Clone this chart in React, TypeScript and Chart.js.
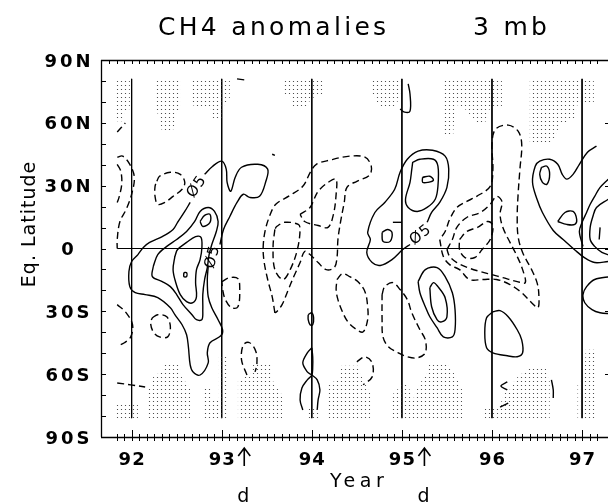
import React, { useEffect, useRef } from 'react';
import { Chart, registerables } from 'chart.js';

Chart.register(...registerables);

type Pt = [number, number];

// ---------- axes / text ----------
const yearTicks = [92, 93, 94, 95, 96, 97];
const latTicks = [90, 60, 30, 0, -30, -60, -90];
const latLabels = ['90N', '60N', '30N', '0', '30S', '60S', '90S'];
const titleLeft = 'CH4 anomalies';
const titleRight = '3 mb';
const xTitle = 'Year';
const yTitle = 'Eq. Latitude';
const eventYears = [93.25, 95.25];
const eventLabels = ['d', 'd'];
const contourLabelText = 'Ø5';
const contourLabelPos: Pt[] = [[92.725, 29.5], [92.9, -4.0], [95.21, 6.5]];
const yearLineLat = 81;
const equatorFrom = 91.84;
const monthFirstTop = -3;
const monthFirstBottom = -2;
const monthLast = 62;

// ---------- stippled (significant) areas ----------
const stipA: Pt[] = [[91.83,80],[91.98,80],[91.98,66.6],[91.93,65.6],[91.91,60.8],[91.83,60.8]];
const stipB: Pt[] = [[92.27,80],[92.54,80],[92.54,66.6],[92.49,64.2],[92.48,59.4],[92.45,55.1],[92.34,55.1],[92.31,61.8],[92.27,66.6]];
const stipC: Pt[] = [[92.66,80],[93.09,80],[93.09,71.4],[93.04,69.0],[93.0,61.8],[92.89,61.8],[92.87,66.6],[92.66,68.5]];
const stipD: Pt[] = [[93.69,80],[94.12,80],[94.12,73.8],[93.98,71.4],[93.96,67.5],[93.79,67.5],[93.76,72.3],[93.69,73.3]];
const stipE: Pt[] = [[94.66,80],[94.99,80],[94.99,73.8],[94.94,69.0],[94.9,66.6],[94.76,66.6],[94.71,71.4],[94.66,73.8]];
const stipF: Pt[] = [[95.46,80],[96.11,80],[96.11,67.5],[95.98,67.5],[95.94,60.8],[95.84,59.9],[95.7,66.6],[95.59,69.0],[95.57,54.6],[95.46,54.6]];
const stipG: Pt[] = [[96.42,80],[97.13,80],[97.13,69.9],[96.95,69.0],[96.92,61.8],[96.75,59.4],[96.7,52.2],[96.61,49.8],[96.42,49.8]];
const stipH: Pt[] = [[91.83,-73.3],[92.07,-73.3],[92.07,-81],[91.83,-81]];
const stipI: Pt[] = [[92.17,-81],[92.17,-67.5],[92.23,-65.1],[92.24,-60.8],[92.34,-58.9],[92.35,-54.6],[92.54,-54.6],[92.54,-60.4],[92.65,-66.6],[92.65,-81]];
const stipJ: Pt[] = [[92.79,-81],[92.79,-66.1],[92.89,-66.1],[92.89,-72.3],[92.96,-72.3],[92.96,-51.7],[93.06,-51.7],[93.06,-81]];
const stipK: Pt[] = [[93.18,-81],[93.18,-62.7],[93.31,-60.4],[93.35,-55.6],[93.56,-55.6],[93.56,-62.7],[93.67,-69.9],[93.67,-81]];
const stipL: Pt[] = [[93.95,-75.2],[94.09,-75.2],[94.09,-81],[93.95,-81]];
const stipM: Pt[] = [[94.18,-81],[94.18,-65.1],[94.31,-61.8],[94.33,-56.0],[94.51,-56.0],[94.56,-61.8],[94.65,-68.5],[94.65,-81]];
const stipN: Pt[] = [[94.89,-81],[94.89,-69.9],[95.0,-65.1],[95.07,-65.1],[95.12,-72.3],[95.19,-65.1],[95.26,-60.8],[95.31,-54.6],[95.5,-54.6],[95.59,-60.4],[95.67,-67.5],[95.67,-81]];
const stipO: Pt[] = [[95.92,-81],[95.92,-75.7],[96.09,-75.7],[96.12,-69.9],[96.22,-66.6],[96.25,-62.7],[96.42,-56.5],[96.59,-56.5],[96.64,-62.7],[96.64,-81]];
const stipP: Pt[] = [[96.95,-81],[96.95,-65.1],[97.03,-58.0],[97.04,-48.4],[97.15,-48.4],[97.15,-81]];

// ---------- positive anomaly contours (solid) ----------
const posA1: Pt[] = [[92.85,-8.6],[92.84,-14.8],[92.85,-23.0],[92.89,-28.3],[92.96,-34.0],[93.01,-38.8],[92.99,-41.7],[92.87,-45.0],[92.84,-49.8],[92.85,-54.6],[92.76,-60.4],[92.68,-58.9],[92.65,-55.6],[92.63,-46.9],[92.61,-41.2],[92.56,-36.4],[92.48,-31.6],[92.43,-28.3],[92.29,-23.5],[92.15,-22.0],[92.04,-21.1],[91.98,-18.2],[91.97,-11.0],[92.0,-6.2],[92.07,-2.9],[92.13,0.5],[92.2,2.9],[92.34,5.7],[92.46,9.1],[92.51,12.5],[92.59,17.7],[92.65,22.0]];
const posA2: Pt[] = [[92.81,35.4],[92.9,39.3],[93.0,41.7],[93.05,37.9],[93.06,31.6],[93.1,27.3],[93.15,34.0],[93.22,38.8],[93.4,40.2],[93.51,37.9],[93.49,32.1],[93.42,24.9],[93.31,24.4],[93.24,25.9],[93.17,22.0],[93.09,15.3],[93.02,9.1],[92.98,1.9]];
const posA3: Pt[] = [[92.24,-8.6],[92.23,-13.4],[92.34,-15.8],[92.43,-18.2],[92.5,-22.0],[92.57,-26.8],[92.67,-31.6],[92.72,-34.0],[92.78,-34.0],[92.79,-29.2],[92.79,-22.0],[92.81,-14.8],[92.84,-9.1],[92.86,-2.9],[92.89,1.9],[92.94,8.1],[92.96,12.9],[92.92,17.7],[92.85,19.6],[92.76,17.7],[92.7,12.9],[92.61,8.1],[92.5,4.3],[92.39,1.0],[92.29,-2.9],[92.24,-8.6]];
const posA4: Pt[] = [[92.48,-3.8],[92.46,-10.1],[92.49,-16.3],[92.54,-22.0],[92.61,-25.4],[92.68,-25.9],[92.72,-23.0],[92.71,-16.3],[92.72,-10.1],[92.76,-5.3],[92.78,0.5],[92.77,5.3],[92.71,5.7],[92.61,2.9],[92.51,-0.5],[92.48,-3.8]];
const posA5: Pt[] = [[92.76,12.9],[92.81,15.8],[92.87,16.3],[92.87,12.5],[92.79,10.5],[92.76,12.9]];
const posA6: Pt[] = [[92.58,-11.5],[92.61,-11.5],[92.61,-13.4],[92.58,-13.4],[92.58,-11.5]];
const posB1: Pt[] = [[95.09,1.9],[95.01,-0.5],[94.89,-5.3],[94.76,-8.1],[94.67,-6.7],[94.61,-1.9],[94.65,4.3],[94.62,7.7],[94.7,17.2],[94.81,22.0],[94.92,28.3],[94.98,36.4],[95.06,42.6],[95.18,46.5],[95.34,46.9],[95.48,44.1],[95.52,37.9],[95.5,29.2],[95.42,22.0],[95.33,17.2],[95.28,12.5]];
const posB2: Pt[] = [[95.12,41.2],[95.2,42.6],[95.35,42.6],[95.4,39.3],[95.4,29.7],[95.37,23.5],[95.28,19.6],[95.17,17.7],[95.07,19.6],[95.04,23.5],[95.09,31.6],[95.11,37.9],[95.12,41.2]];
const posB3: Pt[] = [[95.23,34.0],[95.31,34.5],[95.35,32.6],[95.29,31.6],[95.23,31.6],[95.23,34.0]];
const posB4: Pt[] = [[94.78,7.7],[94.84,9.1],[94.89,7.7],[94.87,3.4],[94.79,3.4],[94.78,7.7]];
const posB5: Pt[] = [[94.9,12.5],[95.0,12.5]];
const posB6: Pt[] = [[95.07,78.6],[95.09,73.8],[95.09,65.6],[95.03,65.1],[94.98,66.6]];
const posC1: Pt[] = [[95.18,-15.8],[95.26,-10.1],[95.39,-9.1],[95.48,-13.4],[95.56,-21.1],[95.59,-29.2],[95.59,-38.8],[95.56,-42.2],[95.46,-42.2],[95.39,-37.8],[95.31,-32.6],[95.26,-27.8],[95.2,-21.1],[95.18,-15.8]];
const posC2: Pt[] = [[95.31,-18.7],[95.35,-16.3],[95.4,-18.2],[95.48,-23.5],[95.5,-32.6],[95.44,-35.0],[95.39,-34.0],[95.33,-27.8],[95.31,-18.7]];
const posC3: Pt[] = [[96.01,-30.2],[96.09,-29.7],[96.18,-32.6],[96.28,-38.8],[96.33,-43.6],[96.34,-49.8],[96.28,-51.7],[96.17,-51.2],[96.01,-49.8],[95.94,-47.4],[95.92,-40.2],[95.94,-33.1],[96.01,-30.2]];
const posD1: Pt[] = [[97.16,48.9],[97.06,46.0],[96.97,40.2],[96.9,35.4],[96.83,33.1],[96.78,35.4],[96.73,40.2],[96.64,42.6],[96.53,41.7],[96.48,39.3],[96.45,31.6],[96.5,23.5],[96.56,17.2],[96.68,8.6],[96.79,4.3],[96.92,-0.7],[97.03,-4.5],[97.14,-6.7],[97.29,-6.2]];
const posD2: Pt[] = [[96.55,38.8],[96.61,39.3],[96.64,35.4],[96.61,30.7],[96.56,31.6],[96.53,35.4],[96.55,38.8]];
const posD3: Pt[] = [[96.73,12.9],[96.81,17.2],[96.9,17.7],[96.94,13.9],[96.92,11.5],[96.83,11.5],[96.73,12.9]];
const posD4: Pt[] = [[97.01,1.0],[96.97,8.1],[97.0,12.5],[97.05,17.2],[97.09,21.1],[97.14,24.9],[97.2,29.2],[97.29,33.1]];
const posD5: Pt[] = [[97.29,23.5],[97.16,19.6],[97.12,15.3],[97.09,10.1],[97.09,4.3],[97.14,1.0],[97.22,-1.9],[97.32,-3.4]];
const posD6: Pt[] = [[97.2,10.1],[97.19,4.3]];
const posD7: Pt[] = [[97.32,-13.4],[97.14,-14.8],[97.05,-18.2],[97.01,-22.0],[97.03,-25.9],[97.11,-29.2],[97.2,-30.7],[97.32,-31.1]];
const posE1: Pt[] = [[93.96,-31.6],[94.0,-30.7],[94.02,-33.1],[94.01,-36.4],[93.98,-36.4],[93.96,-34.0],[93.96,-31.6]];
const posE2: Pt[] = [[94.0,-47.4],[93.95,-49.8],[93.9,-54.6],[93.95,-58.9],[94.0,-60.4],[94.06,-62.7],[94.09,-67.5],[94.07,-72.3],[94.06,-77.1]];
const posE3: Pt[] = [[94.0,-47.4],[94.01,-51.7],[94.01,-56.5],[94.0,-60.4],[93.95,-62.7],[93.89,-66.6],[93.87,-72.3],[93.9,-77.1]];
const posF1: Pt[] = [[96.17,-63.7],[96.1,-65.6],[96.17,-67.5]];
const posF2: Pt[] = [[96.09,-75.7],[96.18,-73.8]];
const posF3: Pt[] = [[96.66,-62.7],[96.68,-67.5],[96.68,-71.4]];
const posG1: Pt[] = [[93.17,81.0],[93.25,80.5]];
const posG2: Pt[] = [[93.56,45.0],[93.59,44.5]];

// ---------- negative anomaly contours (dashed) ----------
const negA1: Pt[] = [[91.84,43.6],[91.9,44.1],[91.98,40.2],[92.03,34.0],[92.0,25.9],[91.94,18.7],[91.87,12.9],[91.84,4.3],[91.84,0]];
const negA2: Pt[] = [[91.84,40.2],[91.88,36.9],[91.89,30.7],[91.86,24.4],[91.84,22.0]];
const negA3: Pt[] = [[91.84,55.6],[91.93,59.9]];
const negA4: Pt[] = [[91.84,-26.8],[91.94,-30.7],[92.01,-36.4],[91.99,-42.2],[91.92,-45.0],[91.84,-46.5]];
const negA5: Pt[] = [[91.84,-64.2],[91.99,-65.1],[92.15,-66.1]];
const negB1: Pt[] = [[92.28,32.1],[92.31,34.5],[92.43,36.4],[92.54,35.4],[92.59,31.6],[92.56,28.3],[92.46,24.9],[92.37,22.0],[92.29,21.1],[92.26,24.9],[92.26,29.7],[92.28,32.1]];
const negB2: Pt[] = [[92.23,-33.1],[92.29,-31.6],[92.39,-32.6],[92.43,-37.4],[92.4,-42.2],[92.31,-42.2],[92.24,-39.8],[92.21,-35.4],[92.23,-33.1]];
const negB3: Pt[] = [[93.0,-15.8],[93.09,-13.9],[93.18,-14.4],[93.2,-19.6],[93.18,-27.8],[93.11,-28.3],[93.04,-24.4],[93.01,-19.6],[93.0,-15.8]];
const negB4: Pt[] = [[93.28,-60.4],[93.22,-53.2],[93.24,-46.0],[93.31,-45.0],[93.38,-49.3],[93.39,-55.6],[93.37,-58.9]];
const negC1: Pt[] = [[93.59,-30.7],[93.56,-23.0],[93.51,-14.8],[93.47,-6.2],[93.46,0.5],[93.48,8.1],[93.53,15.3],[93.6,21.1],[93.76,25.4],[93.9,29.7],[93.99,36.9],[94.05,40.2],[94.2,42.2],[94.42,44.1],[94.59,43.6],[94.66,39.3],[94.64,35.0],[94.5,32.1],[94.39,29.2],[94.36,22.0],[94.32,12.9],[94.29,4.3],[94.28,-4.3],[94.25,-9.1],[94.16,-10.1],[94.07,-6.7],[93.98,-2.9],[93.92,-1.4],[93.87,-6.7],[93.8,-13.4],[93.73,-20.6],[93.67,-26.8],[93.61,-30.2],[93.59,-30.7]];
const negC2: Pt[] = [[93.59,9.1],[93.57,1.0],[93.59,-10.1],[93.68,-14.8],[93.76,-10.1],[93.84,-0.5],[93.87,9.1],[93.85,11.5],[93.7,12.5],[93.61,10.5],[93.59,9.1]];
const negC3: Pt[] = [[93.87,16.3],[93.98,19.6],[94.07,27.3],[94.2,32.1],[94.27,33.1],[94.27,25.9],[94.24,16.3],[94.18,10.1],[94.07,11.0],[93.92,12.9],[93.87,16.3]];
const negC4: Pt[] = [[94.28,-14.8],[94.34,-12.0],[94.42,-13.4],[94.51,-15.8],[94.59,-20.6],[94.62,-27.8],[94.62,-34.0],[94.57,-39.8],[94.5,-38.8],[94.4,-35.0],[94.34,-30.2],[94.29,-24.4],[94.27,-19.6],[94.28,-14.8]];
const negC5: Pt[] = [[94.5,-54.1],[94.59,-51.7],[94.67,-54.6],[94.67,-61.3],[94.57,-65.1]];
const negD1: Pt[] = [[94.78,-22.0],[94.81,-18.2],[94.9,-16.3],[94.98,-19.6],[95.06,-24.4],[95.11,-30.7],[95.2,-38.8],[95.26,-43.6],[95.26,-49.8],[95.17,-52.2],[95.06,-51.7],[94.96,-49.8],[94.85,-46.9],[94.79,-42.2],[94.78,-34.0],[94.78,-22.0]];
const negE1: Pt[] = [[95.42,4.3],[95.46,-3.8],[95.53,-7.7],[95.64,-10.1],[95.75,-14.8],[95.9,-14.8],[96.05,-14.8],[96.2,-17.2],[96.33,-21.1],[96.44,-25.9],[96.51,-28.3],[96.52,-22.0],[96.5,-16.3],[96.44,-10.1],[96.34,-1.9],[96.29,5.7],[96.28,15.3],[96.29,25.9],[96.31,37.9],[96.33,49.8],[96.29,56.0],[96.18,58.9],[96.04,57.0],[96.0,49.8],[96.01,37.9],[95.98,29.7],[95.83,24.9],[95.72,22.5],[95.61,19.6],[95.53,13.9],[95.48,8.1],[95.42,4.3]];
const negE2: Pt[] = [[95.5,-0.5],[95.56,4.3],[95.61,10.1],[95.72,14.8],[95.87,17.2],[95.98,21.1],[96.05,24.9],[96.11,22.5],[96.09,16.3],[96.12,10.1],[96.2,2.9],[96.28,-3.8],[96.34,-10.1],[96.37,-16.3],[96.28,-15.8],[96.12,-13.9],[96.0,-12.5],[95.87,-11.0],[95.73,-9.1],[95.61,-6.7],[95.53,-3.8],[95.5,-0.5]];
const negE3: Pt[] = [[95.64,4.3],[95.72,8.1],[95.84,10.1],[95.95,12.9],[96.01,11.0],[95.98,4.3],[95.89,-0.5],[95.81,-4.3],[95.7,-4.3],[95.64,-0.5],[95.64,4.3]];

const stippleAreas = [stipA, stipB, stipC, stipD, stipE, stipF, stipG, stipH, stipI, stipJ, stipK, stipL, stipM, stipN, stipO, stipP];
const solidContours = [posA1, posA2, posA3, posA4, posA5, posA6, posB1, posB2, posB3, posB4, posB5, posB6, posC1, posC2, posC3, posD1, posD2, posD3, posD4, posD5, posD6, posD7, posE1, posE2, posE3, posF1, posF2, posF3, posG1, posG2];
const dashedContours = [negA1, negA2, negA3, negA4, negA5, negB1, negB2, negB3, negB4, negC1, negC2, negC3, negC4, negC5, negD1, negE1, negE2, negE3];

const toXY = (p: Pt[]) => p.map(([x, y]) => ({ x, y }));

const decorPlugin = {
  id: 'decor',
  afterDatasetsDraw(chart: any) {
    const { ctx, chartArea: a, scales } = chart;
    const xs = scales.x;
    const ys = scales.y;
    ctx.save();
    ctx.strokeStyle = '#000';
    ctx.fillStyle = '#000';
    ctx.lineWidth = 1.3;
    ctx.beginPath();
    ctx.moveTo(a.left, a.top + 0.5); ctx.lineTo(a.right, a.top + 0.5);
    ctx.moveTo(a.left + 0.5, a.top); ctx.lineTo(a.left + 0.5, a.bottom);
    ctx.moveTo(a.left, a.bottom + 0.5); ctx.lineTo(a.right, a.bottom + 0.5);
    ctx.moveTo(a.right - 0.5, a.top); ctx.lineTo(a.right - 0.5, a.bottom);
    ctx.stroke();

    // monthly ticks
    ctx.lineWidth = 1;
    ctx.beginPath();
    for (let m = monthFirstTop; m <= monthLast; m++) {
      const px = Math.round(xs.getPixelForValue(92 + m / 12)) + 0.5;
      ctx.moveTo(px, a.top); ctx.lineTo(px, a.top + 4);
    }
    for (let m = monthFirstBottom; m <= monthLast; m++) {
      const px = Math.round(xs.getPixelForValue(92 + m / 12)) + 0.5;
      const major = m % 12 === 0;
      ctx.moveTo(px, a.bottom - (major ? 7 : 3)); ctx.lineTo(px, a.bottom + 4);
    }
    // latitude ticks
    for (let lat = -80; lat <= 80; lat += 10) {
      const py = Math.round(ys.getPixelForValue(lat)) + 0.5;
      ctx.moveTo(a.left, py); ctx.lineTo(a.left + 5, py);
      if (lat % 30 === 0) { ctx.moveTo(a.right, py); ctx.lineTo(a.right - 5, py); }
    }
    ctx.stroke();

    // tick labels
    ctx.font = 'bold 18px "DejaVu Sans"';
    ctx.textAlign = 'center';
    ctx.textBaseline = 'alphabetic';
    (ctx as any).letterSpacing = '1px';
    yearTicks.forEach((v) => {
      ctx.fillText(String(v), xs.getPixelForValue(v) + 0.5, 465);
    });
    (ctx as any).letterSpacing = '3px';
    latTicks.forEach((v, i) => {
      ctx.fillText(latLabels[i], 69, ys.getPixelForValue(v) + 6.5);
    });

    // event arrows
    ctx.lineWidth = 1.6;
    eventYears.forEach((v) => {
      const px = xs.getPixelForValue(v);
      ctx.beginPath();
      ctx.moveTo(px, 466); ctx.lineTo(px, 448);
      ctx.moveTo(px - 6, 456); ctx.lineTo(px, 448); ctx.lineTo(px + 6, 456);
      ctx.stroke();
    });
    ctx.font = '19px "DejaVu Sans"';
    (ctx as any).letterSpacing = '0px';
    eventYears.forEach((v, i) => {
      ctx.fillText(eventLabels[i], xs.getPixelForValue(v) - 1, 502);
    });

    // axis titles
    (ctx as any).letterSpacing = '4.5px';
    ctx.textAlign = 'left';
    ctx.fillText(xTitle, 330, 487);
    ctx.save();
    ctx.translate(35, 224);
    ctx.rotate(-Math.PI / 2);
    ctx.textAlign = 'center';
    (ctx as any).letterSpacing = '1px';
    ctx.fillText(yTitle, 0, 0);
    ctx.restore();

    // main title
    ctx.font = '25px "DejaVu Sans"';
    (ctx as any).letterSpacing = '3.3px';
    ctx.textAlign = 'left';
    ctx.fillText(titleLeft, 158, 35);
    ctx.fillText(titleRight, 473, 35);

    // contour labels
    const angles = [-55, -75, -38];
    ctx.font = '15px "DejaVu Sans"';
    (ctx as any).letterSpacing = '1px';
    ctx.textAlign = 'center';
    ctx.textBaseline = 'middle';
    contourLabelPos.forEach(([x, y], i) => {
      ctx.save();
      ctx.translate(xs.getPixelForValue(x), ys.getPixelForValue(y));
      ctx.rotate((angles[i] * Math.PI) / 180);
      ctx.fillText(contourLabelText, 0, 0);
      ctx.restore();
    });
    ctx.restore();
  },
};

export default function App() {
  const ref = useRef<HTMLCanvasElement | null>(null);
  useEffect(() => {
    const canvas = ref.current;
    if (!canvas) return;
    const ctx = canvas.getContext('2d')!;
    const tile = document.createElement('canvas');
    tile.width = 4; tile.height = 4;
    const tctx = tile.getContext('2d')!;
    tctx.fillStyle = '#333';
    tctx.beginPath();
    tctx.arc(1.5, 1.5, 0.62, 0, Math.PI * 2);
    tctx.fill();
    const pattern = ctx.createPattern(tile, 'repeat')!;

    const datasets: any[] = [];
    stippleAreas.forEach((p) => {
      datasets.push({
        data: toXY([...p, p[0]]),
        showLine: true,
        fill: 'shape',
        backgroundColor: pattern,
        borderWidth: 0,
        borderColor: 'rgba(0,0,0,0)',
        pointRadius: 0,
        tension: 0,
      });
    });
    yearTicks.forEach((v) => {
      datasets.push({
        data: [{ x: v, y: yearLineLat }, { x: v, y: -yearLineLat }],
        showLine: true, borderColor: '#000', borderWidth: 1, pointRadius: 0, tension: 0, fill: false,
      });
    });
    datasets.push({
      data: [{ x: equatorFrom, y: 0 }, { x: 97.4, y: 0 }],
      showLine: true, borderColor: '#000', borderWidth: 1, pointRadius: 0, tension: 0, fill: false,
    });
    solidContours.forEach((p) => {
      datasets.push({
        data: toXY(p), showLine: true, borderColor: '#000', borderWidth: 1.4,
        pointRadius: 0, tension: 0.35, fill: false,
      });
    });
    dashedContours.forEach((p) => {
      datasets.push({
        data: toXY(p), showLine: true, borderColor: '#000', borderWidth: 1.4,
        borderDash: [7, 4], pointRadius: 0, tension: 0.35, fill: false,
      });
    });

    const chart = new Chart(ctx, {
      type: 'scatter',
      data: { datasets },
      options: {
        animation: false,
        responsive: false,
        events: [],
        layout: { padding: { left: 101, top: 60, right: 6, bottom: 65 } },
        plugins: { legend: { display: false }, tooltip: { enabled: false } },
        scales: {
          x: { type: 'linear', min: 91.66, max: 97.31, display: false },
          y: { type: 'linear', min: -90, max: 90, display: false },
        },
      },
      plugins: [decorPlugin],
    });
    return () => chart.destroy();
  }, []);

  return (
    <div style={{ position: 'absolute', left: 0, top: 0, width: 608, height: 502, overflow: 'hidden', background: '#fff' }}>
      <canvas ref={ref} width={616} height={502} style={{ display: 'block', width: 616, height: 502 }} />
    </div>
  );
}
